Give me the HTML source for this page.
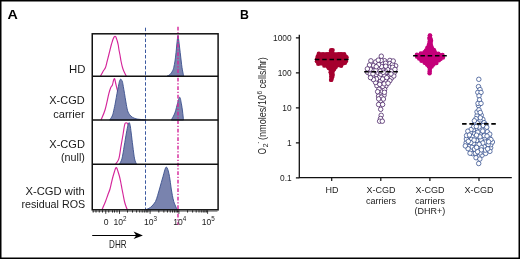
<!DOCTYPE html><html><head><meta charset="utf-8"><style>html,body{margin:0;padding:0;background:#fff}body{width:520px;height:259px;overflow:hidden}svg{display:block;will-change:transform}text{font-family:"Liberation Sans",sans-serif}</style></head><body>
<svg width="520" height="259" viewBox="0 0 520 259">
<rect x="0" y="0" width="520" height="259" fill="#fff"/>
<text x="7.6" y="18.7" font-size="13.2" font-weight="bold" fill="#000" textLength="10.3" lengthAdjust="spacingAndGlyphs">A</text>
<text x="240.0" y="18.8" font-size="13.3" font-weight="bold" fill="#000" textLength="8.9" lengthAdjust="spacingAndGlyphs">B</text>
<path d="M100.5,76.2 C100.92,75.42 102.17,72.95 103,71.5 C103.83,70.05 104.8,69.25 105.5,67.5 C106.2,65.75 106.66,63.08 107.2,61 C107.74,58.92 108.28,56.83 108.75,55 C109.22,53.17 109.58,51.67 110,50 C110.42,48.33 110.87,46.42 111.25,45 C111.63,43.58 111.97,42.54 112.3,41.5 C112.63,40.46 112.93,39.53 113.25,38.75 C113.57,37.97 113.91,37.22 114.2,36.8 C114.49,36.38 114.73,36.2 115,36.2 C115.27,36.2 115.55,36.38 115.8,36.8 C116.05,37.22 116.23,37.97 116.5,38.75 C116.77,39.53 117.11,40.46 117.4,41.5 C117.69,42.54 117.98,43.58 118.25,45 C118.52,46.42 118.71,48.33 119,50 C119.29,51.67 119.67,53.17 120,55 C120.33,56.83 120.58,58.92 121,61 C121.42,63.08 122,65.75 122.5,67.5 C123,69.25 123.37,70.05 124,71.5 C124.63,72.95 125.92,75.42 126.3,76.2" fill="none" stroke="#d4259a" stroke-width="1.15" stroke-linejoin="round"/>
<path d="M167,76.2 C167.5,75.92 169.08,75.37 170,74.5 C170.92,73.63 171.88,72.17 172.5,71 C173.12,69.83 173.33,69.17 173.75,67.5 C174.17,65.83 174.67,63.08 175,61 C175.33,58.92 175.53,56.83 175.75,55 C175.97,53.17 176.13,51.67 176.3,50 C176.47,48.33 176.58,46.67 176.75,45 C176.92,43.33 177.09,41.57 177.3,40 C177.51,38.43 177.77,35.6 178,35.6 C178.23,35.6 178.48,38.43 178.7,40 C178.92,41.57 179.1,43.33 179.3,45 C179.5,46.67 179.7,48.33 179.9,50 C180.1,51.67 180.28,53.17 180.5,55 C180.72,56.83 180.95,58.92 181.2,61 C181.45,63.08 181.73,65.67 182,67.5 C182.27,69.33 182.51,70.55 182.8,72 C183.09,73.45 183.59,75.5 183.75,76.2 Z" fill="#7983ae" stroke="#3a4f8c" stroke-width="0.9" stroke-linejoin="round"/>
<path d="M101,120 C101.67,118.33 103.68,114.43 105,110 C106.32,105.57 107.93,97.15 108.9,93.4 C109.87,89.65 110.22,88.9 110.8,87.5 C111.38,86.1 111.95,86.17 112.4,85 C112.85,83.83 113.13,81.57 113.5,80.5 C113.87,79.43 114.27,78.27 114.6,78.6 C114.93,78.93 115.13,80.93 115.5,82.5 C115.87,84.07 116.33,86.08 116.8,88 C117.27,89.92 117.77,91.33 118.3,94 C118.83,96.67 119.38,99.67 120,104 C120.62,108.33 121.67,117.33 122,120" fill="none" stroke="#d4259a" stroke-width="1.15" stroke-linejoin="round"/>
<path d="M109.6,120 C110.03,119.33 111.52,117.55 112.2,116 C112.88,114.45 113.15,113.03 113.7,110.7 C114.25,108.37 114.95,104.88 115.5,102 C116.05,99.12 116.52,96 117,93.4 C117.48,90.8 117.98,88.43 118.4,86.4 C118.82,84.37 119.12,82.42 119.5,81.2 C119.88,79.98 120.32,79.22 120.7,79.1 C121.08,78.98 121.52,80.1 121.8,80.5 C122.08,80.9 122.15,80.52 122.4,81.5 C122.65,82.48 122.95,84.42 123.3,86.4 C123.65,88.38 124.07,90.8 124.5,93.4 C124.93,96 125.38,99.12 125.9,102 C126.42,104.88 126.97,108.58 127.6,110.7 C128.23,112.82 128.92,113.62 129.7,114.7 C130.48,115.78 131.25,116.52 132.3,117.2 C133.35,117.88 134.72,118.43 136,118.8 C137.28,119.17 138.33,119.2 140,119.4 C141.67,119.6 145,119.9 146,120 Z" fill="#7983ae" stroke="#3a4f8c" stroke-width="0.9" stroke-linejoin="round"/>
<path d="M171.3,120 C171.75,119.17 173.28,116.53 174,115 C174.72,113.47 175.03,112.67 175.6,110.8 C176.17,108.93 176.72,106.07 177.4,103.8 C178.08,101.53 179.03,97.2 179.7,97.2 C180.37,97.2 180.93,101.5 181.4,103.8 C181.87,106.1 182.15,108.3 182.5,111 C182.85,113.7 183.33,118.5 183.5,120 Z" fill="#7983ae" stroke="#3a4f8c" stroke-width="0.9" stroke-linejoin="round"/>
<path d="M115.5,164.3 C116.05,163.4 117.88,161.92 118.8,158.9 C119.72,155.88 120.27,150.43 121,146.2 C121.73,141.97 122.63,136.87 123.2,133.5 C123.77,130.13 124.05,127.72 124.4,126 C124.75,124.28 124.9,123.7 125.3,123.2 C125.7,122.7 126.32,122.7 126.8,123 C127.28,123.3 127.75,123.33 128.2,125 C128.65,126.67 129.03,129.5 129.5,133 C129.97,136.5 130.45,140.78 131,146 C131.55,151.22 132.5,161.25 132.8,164.3" fill="none" stroke="#d4259a" stroke-width="1.15" stroke-linejoin="round"/>
<path d="M119.2,164.3 C119.65,163.4 121.07,161.95 121.9,158.9 C122.73,155.85 123.45,150.32 124.2,146 C124.95,141.68 125.78,136.42 126.4,133 C127.02,129.58 127.45,127.23 127.9,125.5 C128.35,123.77 128.72,122.6 129.1,122.6 C129.48,122.6 129.85,123.77 130.2,125.5 C130.55,127.23 130.77,129.58 131.2,133 C131.63,136.42 132.23,141.68 132.8,146 C133.37,150.32 133.97,155.85 134.6,158.9 C135.23,161.95 136.27,163.4 136.6,164.3 Z" fill="#7983ae" stroke="#3a4f8c" stroke-width="0.9" stroke-linejoin="round"/>
<path d="M102,209.8 C102.33,209 103.42,206.38 104,205 C104.58,203.62 104.87,203.17 105.5,201.5 C106.13,199.83 107.05,197.08 107.8,195 C108.55,192.92 109.38,191.08 110,189 C110.62,186.92 111,184.58 111.5,182.5 C112,180.42 112.5,178.33 113,176.5 C113.5,174.67 114.08,172.83 114.5,171.5 C114.92,170.17 115.21,169.15 115.5,168.5 C115.79,167.85 116,167.6 116.25,167.6 C116.5,167.6 116.71,167.85 117,168.5 C117.29,169.15 117.58,170.17 118,171.5 C118.42,172.83 119.03,174.67 119.5,176.5 C119.97,178.33 120.38,180.42 120.8,182.5 C121.22,184.58 121.6,186.92 122,189 C122.4,191.08 122.78,192.92 123.2,195 C123.62,197.08 124.08,199.75 124.5,201.5 C124.92,203.25 125.23,204.12 125.7,205.5 C126.17,206.88 127.03,209.08 127.3,209.8" fill="none" stroke="#d4259a" stroke-width="1.15" stroke-linejoin="round"/>
<path d="M145.4,209.8 C146,209.55 147.9,208.93 149,208.3 C150.1,207.67 150.92,207.13 152,206 C153.08,204.87 154.57,203.25 155.5,201.5 C156.43,199.75 156.93,197.58 157.6,195.5 C158.27,193.42 158.88,191.17 159.5,189 C160.12,186.83 160.72,184.58 161.3,182.5 C161.88,180.42 162.47,178.42 163,176.5 C163.53,174.58 164.08,172.42 164.5,171 C164.92,169.58 165.2,168.65 165.5,168 C165.8,167.35 166.02,167.1 166.3,167.1 C166.58,167.1 166.87,167.35 167.2,168 C167.53,168.65 167.92,169.58 168.3,171 C168.68,172.42 169.15,174.58 169.5,176.5 C169.85,178.42 170.11,180.42 170.4,182.5 C170.69,184.58 170.92,186.83 171.25,189 C171.58,191.17 171.98,193.42 172.4,195.5 C172.82,197.58 173.23,199.75 173.75,201.5 C174.27,203.25 174.91,204.62 175.5,206 C176.09,207.38 177,209.17 177.3,209.8 Z" fill="#7983ae" stroke="#3a4f8c" stroke-width="0.9" stroke-linejoin="round"/>
<line x1="145.5" y1="25.8" x2="145.5" y2="209.5" stroke="#3c5aa0" stroke-width="1" stroke-dasharray="3.5 1.95" stroke-dashoffset="-1.9"/>
<line x1="178" y1="25.8" x2="178" y2="225" stroke="#d4259a" stroke-width="1.4" stroke-dasharray="3.7 1.7 1.2 1.9" stroke-dashoffset="-1"/>
<rect x="92.25" y="33.8" width="125.85" height="176" fill="none" stroke="#111" stroke-width="1.5"/>
<line x1="92.25" y1="76.2" x2="218.1" y2="76.2" stroke="#111" stroke-width="1.5"/>
<line x1="92.25" y1="120" x2="218.1" y2="120" stroke="#111" stroke-width="1.5"/>
<line x1="92.25" y1="164.3" x2="218.1" y2="164.3" stroke="#111" stroke-width="1.5"/>
<path d="M105.75,210.2 V213.8 M119.5,210.2 V213.8 M150.1,210.2 V213.8 M178.9,210.2 V213.8 M207.6,210.2 V213.8 M158.8,210.2 V212.6 M163.87,210.2 V212.6 M167.46,210.2 V212.6 M170.25,210.2 V212.6 M172.52,210.2 V212.6 M174.45,210.2 V212.6 M176.11,210.2 V212.6 M177.58,210.2 V212.6 M187.55,210.2 V212.6 M192.62,210.2 V212.6 M196.21,210.2 V212.6 M199,210.2 V212.6 M201.27,210.2 V212.6 M203.2,210.2 V212.6 M204.86,210.2 V212.6 M206.33,210.2 V212.6 M127.5,210.2 V212.6 M132.5,210.2 V212.6 M136.6,210.2 V212.6 M139.7,210.2 V212.6 M142.2,210.2 V212.6 M144.3,210.2 V212.6 M146.2,210.2 V212.6 M147.8,210.2 V212.6 M93.2,210.2 V212.6 M96,210.2 V212.6 M99.25,210.2 V212.6 M102.5,210.2 V212.6 M108.75,210.2 V212.6 M112.5,210.2 V212.6 M114.5,210.2 V212.6 M117,210.2 V212.6" stroke="#222" stroke-width="0.9" fill="none"/>
<line x1="92.5" y1="211.3" x2="217.5" y2="211.3" stroke="#000" stroke-opacity="0.45" stroke-width="1"/>
<text x="106.1" y="224.5" font-size="8.6" fill="#222" text-anchor="middle">0</text>
<text x="113.4" y="224.5" font-size="8.6" fill="#222">10<tspan font-size="6.3" dy="-3.5">2</tspan></text>
<text x="143.9" y="224.5" font-size="8.6" fill="#222">10<tspan font-size="6.3" dy="-3.5">3</tspan></text>
<text x="173.2" y="224.5" font-size="8.6" fill="#222">10<tspan font-size="6.3" dy="-3.5">4</tspan></text>
<text x="201.7" y="224.5" font-size="8.6" fill="#222">10<tspan font-size="6.3" dy="-3.5">5</tspan></text>
<line x1="92.2" y1="235.5" x2="139" y2="235.5" stroke="#000" stroke-width="1.1"/>
<path d="M133.6,231.6 L142.9,235.5 L133.6,239.1 L136.2,235.5 Z" fill="#000"/>
<text x="0" y="0" font-size="10.5" fill="#222" transform="translate(109.1,247.9) scale(0.77,1)">DHR</text>
<text x="69" y="73.3" font-size="10.5" fill="#1a1a1a" textLength="16.4" lengthAdjust="spacingAndGlyphs">HD</text>
<text x="49.3" y="104.4" font-size="10.5" fill="#1a1a1a" textLength="35.4" lengthAdjust="spacingAndGlyphs">X-CGD</text>
<text x="53.2" y="117.6" font-size="10.5" fill="#1a1a1a" textLength="31.5" lengthAdjust="spacingAndGlyphs">carrier</text>
<text x="49.3" y="148.2" font-size="10.5" fill="#1a1a1a" textLength="35.6" lengthAdjust="spacingAndGlyphs">X-CGD</text>
<text x="61" y="161.2" font-size="10.5" fill="#1a1a1a" textLength="23.9" lengthAdjust="spacingAndGlyphs">(null)</text>
<text x="25.45" y="194.6" font-size="10.5" fill="#1a1a1a" textLength="59.35" lengthAdjust="spacingAndGlyphs">X-CGD with</text>
<text x="21.4" y="207.9" font-size="10.5" fill="#1a1a1a" textLength="63.8" lengthAdjust="spacingAndGlyphs">residual ROS</text>
<path d="M299.3,34.8 V177.7 H511.8" fill="none" stroke="#111" stroke-width="1.3"/>
<path d="M295.9,37.8 H299.3 M295.9,72.8 H299.3 M295.9,107.8 H299.3 M295.9,142.8 H299.3 M295.9,177.8 H299.3 M331.7,177.7 V181 M380.8,177.7 V181 M429.9,177.7 V181 M479,177.7 V181" stroke="#111" stroke-width="1.2" fill="none"/>
<text x="291.7" y="40.6" font-size="8.4" fill="#222" text-anchor="end">1000</text>
<text x="291.7" y="75.6" font-size="8.4" fill="#222" text-anchor="end">100</text>
<text x="291.7" y="110.6" font-size="8.4" fill="#222" text-anchor="end">10</text>
<text x="291.7" y="145.6" font-size="8.4" fill="#222" text-anchor="end">1</text>
<text x="291.7" y="180.6" font-size="8.4" fill="#222" text-anchor="end">0.1</text>
<text x="331.9" y="192.6" font-size="9" fill="#222" text-anchor="middle">HD</text>
<text x="381" y="192.8" font-size="9" fill="#222" text-anchor="middle">X-CGD</text>
<text x="381" y="203.6" font-size="9" fill="#222" text-anchor="middle">carriers</text>
<text x="429.9" y="192.8" font-size="9" fill="#222" text-anchor="middle">X-CGD</text>
<text x="429.9" y="203.6" font-size="9" fill="#222" text-anchor="middle">carriers</text>
<text x="429.9" y="213.9" font-size="9" fill="#222" text-anchor="middle">(DHR+)</text>
<text x="479" y="192.8" font-size="9" fill="#222" text-anchor="middle">X-CGD</text>
<g transform="translate(266.0,0) rotate(-90)"><text x="-154.3" y="0" font-size="11.3" fill="#222" textLength="6.1" lengthAdjust="spacingAndGlyphs">O</text><text x="-147.6" y="1.9" font-size="7.2" fill="#222" textLength="4.2" lengthAdjust="spacingAndGlyphs">2</text><text x="-143.6" y="-6" font-size="7.2" fill="#222" textLength="1.6" lengthAdjust="spacingAndGlyphs">-</text><text x="-140" y="0" font-size="11.3" fill="#222" textLength="45" lengthAdjust="spacingAndGlyphs">(nmoles/10</text><text x="-94.6" y="-4.3" font-size="7.2" fill="#222" textLength="3.8" lengthAdjust="spacingAndGlyphs">6</text><text x="-88.4" y="0" font-size="11.3" fill="#222" textLength="31.2" lengthAdjust="spacingAndGlyphs">cells/hr)</text></g>
<g fill="#a6002f"><circle cx="331.1" cy="50.21" r="2.2"/><circle cx="332.6" cy="50.1" r="2.2"/><circle cx="330.86" cy="52.31" r="2.2"/><circle cx="331.67" cy="52.5" r="2.2"/><circle cx="332.24" cy="52.41" r="2.2"/><circle cx="318.85" cy="53.73" r="2.2"/><circle cx="321.3" cy="54.43" r="2.2"/><circle cx="323.07" cy="54.19" r="2.2"/><circle cx="325.15" cy="54.48" r="2.2"/><circle cx="327.02" cy="54.26" r="2.2"/><circle cx="329.06" cy="54.12" r="2.2"/><circle cx="330.9" cy="54.22" r="2.2"/><circle cx="332.5" cy="54.15" r="2.2"/><circle cx="334.45" cy="54.43" r="2.2"/><circle cx="336.28" cy="54.33" r="2.2"/><circle cx="338.35" cy="54.25" r="2.2"/><circle cx="340.2" cy="54.13" r="2.2"/><circle cx="341.89" cy="54.18" r="2.2"/><circle cx="344.2" cy="54.2" r="2.2"/><circle cx="317.84" cy="56.22" r="2.2"/><circle cx="320.02" cy="56.02" r="2.2"/><circle cx="322.1" cy="56.18" r="2.2"/><circle cx="323.83" cy="56.13" r="2.2"/><circle cx="325.88" cy="56.25" r="2.2"/><circle cx="327.91" cy="56.02" r="2.2"/><circle cx="329.95" cy="55.95" r="2.2"/><circle cx="331.67" cy="56.2" r="2.2"/><circle cx="333.5" cy="56.1" r="2.2"/><circle cx="335.4" cy="56.17" r="2.2"/><circle cx="337.63" cy="56.13" r="2.2"/><circle cx="339.62" cy="56.03" r="2.2"/><circle cx="341.49" cy="56.14" r="2.2"/><circle cx="343.39" cy="56.08" r="2.2"/><circle cx="345.78" cy="56.72" r="2.2"/><circle cx="317.68" cy="58.13" r="2.2"/><circle cx="319.42" cy="57.98" r="2.2"/><circle cx="321.54" cy="58.1" r="2.2"/><circle cx="323.49" cy="57.81" r="2.2"/><circle cx="325.19" cy="57.97" r="2.2"/><circle cx="326.93" cy="57.88" r="2.2"/><circle cx="328.87" cy="57.75" r="2.2"/><circle cx="330.7" cy="58.01" r="2.2"/><circle cx="332.61" cy="57.8" r="2.2"/><circle cx="334.59" cy="58.05" r="2.2"/><circle cx="336.35" cy="57.88" r="2.2"/><circle cx="338.42" cy="58.05" r="2.2"/><circle cx="340.4" cy="58.05" r="2.2"/><circle cx="342.07" cy="57.87" r="2.2"/><circle cx="343.98" cy="58.05" r="2.2"/><circle cx="346.56" cy="57.41" r="2.2"/><circle cx="316.91" cy="59.32" r="2.2"/><circle cx="319.2" cy="59.69" r="2.2"/><circle cx="321.28" cy="59.61" r="2.2"/><circle cx="322.99" cy="59.67" r="2.2"/><circle cx="325.07" cy="59.73" r="2.2"/><circle cx="327.25" cy="59.78" r="2.2"/><circle cx="329.01" cy="59.75" r="2.2"/><circle cx="331.02" cy="59.52" r="2.2"/><circle cx="333.05" cy="59.81" r="2.2"/><circle cx="334.98" cy="59.82" r="2.2"/><circle cx="336.73" cy="59.66" r="2.2"/><circle cx="338.55" cy="59.75" r="2.2"/><circle cx="340.48" cy="59.53" r="2.2"/><circle cx="342.48" cy="59.56" r="2.2"/><circle cx="344.47" cy="59.52" r="2.2"/><circle cx="345.77" cy="59.21" r="2.2"/><circle cx="316.95" cy="61.31" r="2.2"/><circle cx="319.23" cy="61.65" r="2.2"/><circle cx="321.38" cy="61.36" r="2.2"/><circle cx="323.14" cy="61.44" r="2.2"/><circle cx="325.1" cy="61.35" r="2.2"/><circle cx="327.21" cy="61.7" r="2.2"/><circle cx="328.97" cy="61.49" r="2.2"/><circle cx="330.73" cy="61.34" r="2.2"/><circle cx="332.74" cy="61.41" r="2.2"/><circle cx="334.85" cy="61.36" r="2.2"/><circle cx="336.44" cy="61.68" r="2.2"/><circle cx="338.55" cy="61.36" r="2.2"/><circle cx="340.47" cy="61.31" r="2.2"/><circle cx="342.38" cy="61.69" r="2.2"/><circle cx="344.42" cy="61.58" r="2.2"/><circle cx="345.86" cy="61.31" r="2.2"/><circle cx="318.25" cy="63.68" r="2.2"/><circle cx="320.62" cy="63.41" r="2.2"/><circle cx="322.44" cy="63.19" r="2.2"/><circle cx="324.53" cy="63.49" r="2.2"/><circle cx="326.44" cy="63.42" r="2.2"/><circle cx="328.33" cy="63.4" r="2.2"/><circle cx="329.99" cy="63.31" r="2.2"/><circle cx="331.94" cy="63.11" r="2.2"/><circle cx="333.7" cy="63.21" r="2.2"/><circle cx="335.69" cy="63.38" r="2.2"/><circle cx="337.87" cy="63.28" r="2.2"/><circle cx="339.76" cy="63.5" r="2.2"/><circle cx="341.66" cy="63.25" r="2.2"/><circle cx="343.26" cy="63.19" r="2.2"/><circle cx="344.85" cy="62.89" r="2.2"/><circle cx="324.37" cy="65.66" r="2.2"/><circle cx="326.24" cy="65.09" r="2.2"/><circle cx="328.06" cy="65.22" r="2.2"/><circle cx="329.73" cy="65.16" r="2.2"/><circle cx="331.96" cy="65.21" r="2.2"/><circle cx="333.8" cy="65.09" r="2.2"/><circle cx="335.47" cy="65.22" r="2.2"/><circle cx="337.43" cy="65.22" r="2.2"/><circle cx="339.59" cy="65.06" r="2.2"/><circle cx="341.16" cy="65.73" r="2.2"/><circle cx="327.81" cy="66.44" r="2.2"/><circle cx="329.03" cy="66.76" r="2.2"/><circle cx="331.02" cy="67.02" r="2.2"/><circle cx="332.4" cy="67.03" r="2.2"/><circle cx="334.41" cy="66.96" r="2.2"/><circle cx="335.69" cy="66.97" r="2.2"/><circle cx="328.78" cy="68.02" r="2.2"/><circle cx="331.09" cy="68.76" r="2.2"/><circle cx="332.51" cy="68.87" r="2.2"/><circle cx="334.01" cy="69.22" r="2.2"/><circle cx="330.69" cy="70.1" r="2.2"/><circle cx="331.7" cy="70.42" r="2.2"/><circle cx="333" cy="70.62" r="2.2"/><circle cx="330.65" cy="72.19" r="2.2"/><circle cx="332.33" cy="72.87" r="2.2"/><circle cx="331.1" cy="74.04" r="2.2"/><circle cx="332.65" cy="74.67" r="2.2"/><circle cx="331.33" cy="76.48" r="2.2"/><circle cx="332.3" cy="75.94" r="2.2"/><circle cx="331.62" cy="77.03" r="2.2"/><circle cx="331.99" cy="77.26" r="2.2"/><circle cx="331.06" cy="79.92" r="2.2"/><circle cx="331.4" cy="79.46" r="2.2"/></g>
<g fill="#c4007a"><circle cx="430.12" cy="35.58" r="2.2"/><circle cx="429.84" cy="35.53" r="2.2"/><circle cx="429.88" cy="37.7" r="2.2"/><circle cx="429.66" cy="37.38" r="2.2"/><circle cx="429.45" cy="38.79" r="2.2"/><circle cx="430.71" cy="39.11" r="2.2"/><circle cx="429.81" cy="41.26" r="2.2"/><circle cx="431.05" cy="40.82" r="2.2"/><circle cx="429.69" cy="42.71" r="2.2"/><circle cx="430.69" cy="42.97" r="2.2"/><circle cx="429" cy="44.55" r="2.2"/><circle cx="430.92" cy="45.12" r="2.2"/><circle cx="428.35" cy="46.83" r="2.2"/><circle cx="429.92" cy="46.2" r="2.2"/><circle cx="431.51" cy="46.92" r="2.2"/><circle cx="427.41" cy="47.59" r="2.2"/><circle cx="428.7" cy="48.08" r="2.2"/><circle cx="430.59" cy="48" r="2.2"/><circle cx="432.08" cy="48.34" r="2.2"/><circle cx="426" cy="50.46" r="2.2"/><circle cx="427.15" cy="49.99" r="2.2"/><circle cx="429.04" cy="49.76" r="2.2"/><circle cx="430.82" cy="50.09" r="2.2"/><circle cx="432.24" cy="50.08" r="2.2"/><circle cx="433.9" cy="49.88" r="2.2"/><circle cx="424.49" cy="52.17" r="2.2"/><circle cx="425.57" cy="51.67" r="2.2"/><circle cx="427.63" cy="51.64" r="2.2"/><circle cx="429.41" cy="51.63" r="2.2"/><circle cx="431.53" cy="51.51" r="2.2"/><circle cx="433.37" cy="51.68" r="2.2"/><circle cx="434.59" cy="51.46" r="2.2"/><circle cx="420.8" cy="53.52" r="2.2"/><circle cx="422.41" cy="53.69" r="2.2"/><circle cx="424.66" cy="53.69" r="2.2"/><circle cx="426.35" cy="53.41" r="2.2"/><circle cx="428.29" cy="53.61" r="2.2"/><circle cx="430.34" cy="53.35" r="2.2"/><circle cx="432.36" cy="53.66" r="2.2"/><circle cx="434.48" cy="53.4" r="2.2"/><circle cx="436.17" cy="53.67" r="2.2"/><circle cx="438.37" cy="53.78" r="2.2"/><circle cx="416.89" cy="54.68" r="2.2"/><circle cx="419.44" cy="55.27" r="2.2"/><circle cx="421.1" cy="55.48" r="2.2"/><circle cx="423.22" cy="55.42" r="2.2"/><circle cx="424.9" cy="55.44" r="2.2"/><circle cx="426.79" cy="55.45" r="2.2"/><circle cx="428.85" cy="55.24" r="2.2"/><circle cx="430.78" cy="55.47" r="2.2"/><circle cx="432.57" cy="55.15" r="2.2"/><circle cx="434.57" cy="55.2" r="2.2"/><circle cx="436.31" cy="55.16" r="2.2"/><circle cx="438.18" cy="55.18" r="2.2"/><circle cx="440.19" cy="55.22" r="2.2"/><circle cx="442.52" cy="55.01" r="2.2"/><circle cx="417.06" cy="56.65" r="2.2"/><circle cx="418.9" cy="56.91" r="2.2"/><circle cx="420.75" cy="56.91" r="2.2"/><circle cx="422.84" cy="57.12" r="2.2"/><circle cx="424.51" cy="57.09" r="2.2"/><circle cx="426.7" cy="56.94" r="2.2"/><circle cx="428.55" cy="57.07" r="2.2"/><circle cx="430.32" cy="57.23" r="2.2"/><circle cx="432.17" cy="57.1" r="2.2"/><circle cx="434.18" cy="57.29" r="2.2"/><circle cx="435.94" cy="57.23" r="2.2"/><circle cx="437.97" cy="57.15" r="2.2"/><circle cx="439.75" cy="57.04" r="2.2"/><circle cx="441.5" cy="56.95" r="2.2"/><circle cx="442.97" cy="57.44" r="2.2"/><circle cx="419.1" cy="58.43" r="2.2"/><circle cx="421.2" cy="59.04" r="2.2"/><circle cx="423.44" cy="58.97" r="2.2"/><circle cx="425.13" cy="58.8" r="2.2"/><circle cx="427.06" cy="58.88" r="2.2"/><circle cx="428.93" cy="58.88" r="2.2"/><circle cx="430.9" cy="59.08" r="2.2"/><circle cx="433.1" cy="58.92" r="2.2"/><circle cx="434.74" cy="59.09" r="2.2"/><circle cx="436.69" cy="58.84" r="2.2"/><circle cx="438.49" cy="58.85" r="2.2"/><circle cx="440.58" cy="58.9" r="2.2"/><circle cx="421.45" cy="60.71" r="2.2"/><circle cx="423.49" cy="60.61" r="2.2"/><circle cx="425.35" cy="60.66" r="2.2"/><circle cx="427.15" cy="60.51" r="2.2"/><circle cx="429.08" cy="60.59" r="2.2"/><circle cx="431.01" cy="60.71" r="2.2"/><circle cx="432.9" cy="60.76" r="2.2"/><circle cx="434.71" cy="60.85" r="2.2"/><circle cx="436.4" cy="60.63" r="2.2"/><circle cx="438.94" cy="60.21" r="2.2"/><circle cx="424.65" cy="62.7" r="2.2"/><circle cx="425.86" cy="62.63" r="2.2"/><circle cx="427.92" cy="62.55" r="2.2"/><circle cx="429.57" cy="62.62" r="2.2"/><circle cx="431.05" cy="62.51" r="2.2"/><circle cx="432.91" cy="62.63" r="2.2"/><circle cx="434.74" cy="62.63" r="2.2"/><circle cx="436.45" cy="63.05" r="2.2"/><circle cx="426.97" cy="64.57" r="2.2"/><circle cx="428.27" cy="64.11" r="2.2"/><circle cx="429.9" cy="64.24" r="2.2"/><circle cx="431.55" cy="64.43" r="2.2"/><circle cx="433.46" cy="64.48" r="2.2"/><circle cx="428.69" cy="66.35" r="2.2"/><circle cx="429.9" cy="65.9" r="2.2"/><circle cx="431.71" cy="66.45" r="2.2"/><circle cx="429.74" cy="67.95" r="2.2"/><circle cx="430.29" cy="67.29" r="2.2"/><circle cx="429.77" cy="69.7" r="2.2"/><circle cx="429.7" cy="71.5" r="2.2"/><circle cx="429.59" cy="73.3" r="2.2"/></g>
<g fill="#fff" stroke="#42195f" stroke-width="0.75"><circle cx="382.51" cy="69.71" r="2.25"/><circle cx="384.1" cy="75.15" r="2.25"/><circle cx="376.9" cy="85.68" r="2.25"/><circle cx="389.88" cy="60.45" r="2.25"/><circle cx="373.28" cy="70.59" r="2.25"/><circle cx="380.78" cy="100.91" r="2.25"/><circle cx="380.84" cy="94.35" r="2.25"/><circle cx="385.86" cy="86.05" r="2.25"/><circle cx="385.67" cy="81.45" r="2.25"/><circle cx="381.94" cy="91.13" r="2.25"/><circle cx="367.64" cy="72.32" r="2.25"/><circle cx="384.62" cy="89.51" r="2.25"/><circle cx="389.01" cy="76.18" r="2.25"/><circle cx="391.38" cy="78.22" r="2.25"/><circle cx="378.54" cy="96.1" r="2.25"/><circle cx="373.57" cy="65.51" r="2.25"/><circle cx="380.58" cy="80.8" r="2.25"/><circle cx="384.06" cy="95.17" r="2.25"/><circle cx="381.37" cy="97.16" r="2.25"/><circle cx="378.91" cy="89.3" r="2.25"/><circle cx="389.77" cy="63.56" r="2.25"/><circle cx="373.11" cy="76.81" r="2.25"/><circle cx="388.92" cy="72.01" r="2.25"/><circle cx="389.8" cy="80.72" r="2.25"/><circle cx="378.71" cy="68.04" r="2.25"/><circle cx="394.17" cy="72.83" r="2.25"/><circle cx="382.78" cy="86.42" r="2.25"/><circle cx="386.71" cy="77.67" r="2.25"/><circle cx="375.55" cy="82.49" r="2.25"/><circle cx="384.54" cy="60.74" r="2.25"/><circle cx="370.89" cy="60.83" r="2.25"/><circle cx="379.76" cy="84.32" r="2.25"/><circle cx="376.38" cy="74.9" r="2.25"/><circle cx="377.59" cy="72.28" r="2.25"/><circle cx="377.64" cy="91.71" r="2.25"/><circle cx="370.18" cy="69.18" r="2.25"/><circle cx="379.45" cy="77.2" r="2.25"/><circle cx="391.81" cy="70.31" r="2.25"/><circle cx="389.89" cy="66.97" r="2.25"/><circle cx="375.76" cy="61.97" r="2.25"/><circle cx="369.48" cy="65.04" r="2.25"/><circle cx="381.71" cy="63.46" r="2.25"/><circle cx="376.52" cy="78.89" r="2.25"/><circle cx="367.38" cy="68.87" r="2.25"/><circle cx="395.64" cy="65.83" r="2.25"/><circle cx="387.61" cy="69.58" r="2.25"/><circle cx="384.23" cy="83.81" r="2.25"/><circle cx="392.41" cy="64.55" r="2.25"/><circle cx="386.21" cy="72.08" r="2.25"/><circle cx="392.71" cy="67.29" r="2.25"/><circle cx="388.05" cy="83.22" r="2.25"/><circle cx="381.45" cy="66.53" r="2.25"/><circle cx="393.24" cy="61.01" r="2.25"/><circle cx="370.23" cy="74.11" r="2.25"/><circle cx="378.68" cy="98.89" r="2.25"/><circle cx="378.58" cy="64.63" r="2.25"/><circle cx="385.64" cy="63.24" r="2.25"/><circle cx="385.71" cy="66.2" r="2.25"/><circle cx="394.93" cy="69.38" r="2.25"/><circle cx="380.87" cy="74.17" r="2.25"/><circle cx="383.38" cy="99.03" r="2.25"/><circle cx="393.8" cy="75.97" r="2.25"/><circle cx="382.63" cy="79.02" r="2.25"/><circle cx="372.94" cy="73.87" r="2.25"/><circle cx="381.09" cy="60.39" r="2.25"/><circle cx="375.97" cy="70.09" r="2.25"/><circle cx="384.42" cy="92.31" r="2.25"/><circle cx="378.25" cy="60.13" r="2.25"/><circle cx="373.4" cy="79.5" r="2.25"/><circle cx="390.96" cy="73.91" r="2.25"/><circle cx="376.25" cy="66.75" r="2.25"/><circle cx="370.51" cy="77.62" r="2.25"/><circle cx="380.14" cy="71.08" r="2.25"/><circle cx="383.24" cy="72.33" r="2.25"/><circle cx="381.3" cy="56.2" r="2.25"/><circle cx="380.7" cy="109.3" r="2.25"/><circle cx="381.2" cy="115.3" r="2.25"/><circle cx="380.5" cy="118.5" r="2.25"/><circle cx="379.6" cy="121.2" r="2.25"/><circle cx="382.3" cy="121.2" r="2.25"/><circle cx="378.6" cy="104.5" r="2.25"/><circle cx="382.6" cy="104.5" r="2.25"/></g>
<g fill="#fff" stroke="#2f4b8b" stroke-width="0.75"><circle cx="484.86" cy="138.28" r="2.25"/><circle cx="490.65" cy="147.79" r="2.25"/><circle cx="490.8" cy="144.74" r="2.25"/><circle cx="478.46" cy="105.51" r="2.25"/><circle cx="479.49" cy="155.96" r="2.25"/><circle cx="472.67" cy="153.62" r="2.25"/><circle cx="473.71" cy="129.79" r="2.25"/><circle cx="480.14" cy="133.91" r="2.25"/><circle cx="482.84" cy="119.33" r="2.25"/><circle cx="469.74" cy="146.16" r="2.25"/><circle cx="469.03" cy="137.98" r="2.25"/><circle cx="477.11" cy="115.47" r="2.25"/><circle cx="481.26" cy="115.21" r="2.25"/><circle cx="492.43" cy="142.02" r="2.25"/><circle cx="475.42" cy="153.22" r="2.25"/><circle cx="474.65" cy="123.84" r="2.25"/><circle cx="477.03" cy="111.95" r="2.25"/><circle cx="480.09" cy="120.54" r="2.25"/><circle cx="478.7" cy="149.07" r="2.25"/><circle cx="466.17" cy="142.79" r="2.25"/><circle cx="476.03" cy="157.71" r="2.25"/><circle cx="480.04" cy="124.12" r="2.25"/><circle cx="482.05" cy="155.21" r="2.25"/><circle cx="477.24" cy="122.91" r="2.25"/><circle cx="484.59" cy="132.86" r="2.25"/><circle cx="479.01" cy="109.87" r="2.25"/><circle cx="489.12" cy="137.61" r="2.25"/><circle cx="484.12" cy="122.67" r="2.25"/><circle cx="474.15" cy="133.99" r="2.25"/><circle cx="477.4" cy="129.05" r="2.25"/><circle cx="470.42" cy="150.17" r="2.25"/><circle cx="479.84" cy="159.05" r="2.25"/><circle cx="485.78" cy="124.71" r="2.25"/><circle cx="484.24" cy="146.67" r="2.25"/><circle cx="480.93" cy="139.76" r="2.25"/><circle cx="480.27" cy="117.74" r="2.25"/><circle cx="484.81" cy="129.46" r="2.25"/><circle cx="488.19" cy="144.62" r="2.25"/><circle cx="483.46" cy="151.91" r="2.25"/><circle cx="485.32" cy="142.06" r="2.25"/><circle cx="481.16" cy="146.97" r="2.25"/><circle cx="476.64" cy="140.63" r="2.25"/><circle cx="481.62" cy="128.25" r="2.25"/><circle cx="480.04" cy="136.79" r="2.25"/><circle cx="474.78" cy="137.49" r="2.25"/><circle cx="470.03" cy="153.21" r="2.25"/><circle cx="472.2" cy="147.05" r="2.25"/><circle cx="476.01" cy="118.68" r="2.25"/><circle cx="480" cy="152.9" r="2.25"/><circle cx="482.82" cy="142.99" r="2.25"/><circle cx="468.06" cy="148.7" r="2.25"/><circle cx="490.88" cy="139.54" r="2.25"/><circle cx="473.6" cy="126.75" r="2.25"/><circle cx="484.25" cy="135.65" r="2.25"/><circle cx="487.35" cy="131.82" r="2.25"/><circle cx="470.38" cy="132.44" r="2.25"/><circle cx="472.04" cy="136.69" r="2.25"/><circle cx="476.08" cy="144.75" r="2.25"/><circle cx="465.34" cy="145.86" r="2.25"/><circle cx="470.99" cy="129.6" r="2.25"/><circle cx="489.74" cy="134.17" r="2.25"/><circle cx="474.36" cy="120.79" r="2.25"/><circle cx="479.96" cy="130.76" r="2.25"/><circle cx="474.47" cy="149.12" r="2.25"/><circle cx="489.88" cy="151.35" r="2.25"/><circle cx="473.46" cy="143.33" r="2.25"/><circle cx="488.67" cy="141.85" r="2.25"/><circle cx="483.11" cy="125.58" r="2.25"/><circle cx="466.42" cy="139" r="2.25"/><circle cx="486.73" cy="127.2" r="2.25"/><circle cx="485.68" cy="153.43" r="2.25"/><circle cx="479.07" cy="127.02" r="2.25"/><circle cx="476.33" cy="126.44" r="2.25"/><circle cx="479.15" cy="144.29" r="2.25"/><circle cx="467.82" cy="131.2" r="2.25"/><circle cx="471.46" cy="139.49" r="2.25"/><circle cx="477.78" cy="132.22" r="2.25"/><circle cx="485.34" cy="150.09" r="2.25"/><circle cx="470.84" cy="142.59" r="2.25"/><circle cx="487.66" cy="148.88" r="2.25"/><circle cx="466.57" cy="135.55" r="2.25"/><circle cx="480.22" cy="112.47" r="2.25"/><circle cx="476.55" cy="135.15" r="2.25"/><circle cx="481.29" cy="149.89" r="2.25"/><circle cx="487" cy="136.07" r="2.25"/><circle cx="477.58" cy="151.73" r="2.25"/><circle cx="482.71" cy="131.05" r="2.25"/><circle cx="469.42" cy="135.03" r="2.25"/><circle cx="468.33" cy="141.29" r="2.25"/><circle cx="474.08" cy="140.12" r="2.25"/><circle cx="476.62" cy="147.38" r="2.25"/><circle cx="478.8" cy="79.3" r="2.25"/><circle cx="478.5" cy="86.6" r="2.25"/><circle cx="480" cy="89.5" r="2.25"/><circle cx="477.8" cy="92.4" r="2.25"/><circle cx="481" cy="92.4" r="2.25"/><circle cx="479" cy="95.9" r="2.25"/><circle cx="479.5" cy="99.9" r="2.25"/><circle cx="478" cy="103.4" r="2.25"/><circle cx="481" cy="103.4" r="2.25"/><circle cx="478.7" cy="163.5" r="2.25"/></g>
<line x1="314.9" y1="59.5" x2="348.7" y2="59.5" stroke="#000" stroke-width="1.6" stroke-dasharray="4.5 2.8"/>
<line x1="364.2" y1="71.8" x2="398" y2="71.8" stroke="#000" stroke-width="1.6" stroke-dasharray="4.5 2.8"/>
<line x1="413.1" y1="55.8" x2="446.9" y2="55.8" stroke="#000" stroke-width="1.6" stroke-dasharray="4.5 2.8"/>
<line x1="462.1" y1="123.9" x2="495.9" y2="123.9" stroke="#000" stroke-width="1.6" stroke-dasharray="4.5 2.8"/>
<rect x="0.75" y="0.75" width="518.5" height="257.5" fill="none" stroke="#000" stroke-width="1.5"/>
</svg></body></html>
